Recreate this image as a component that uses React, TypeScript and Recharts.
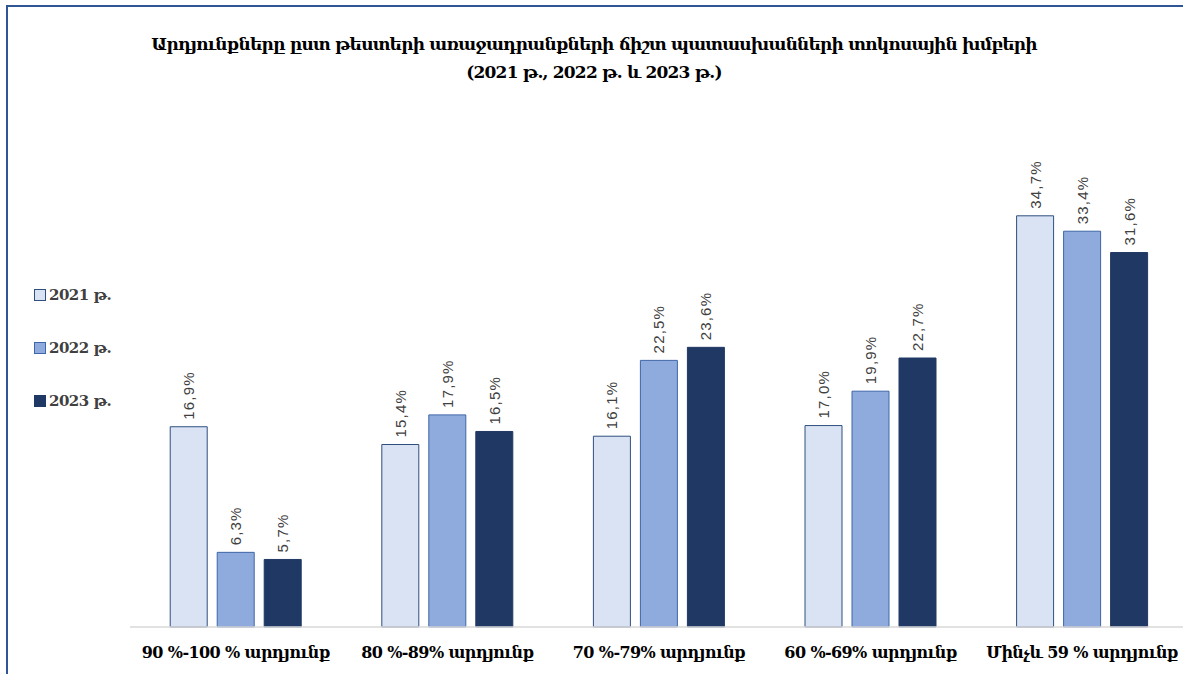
import { Bar, BarChart, LabelList, XAxis, YAxis } from 'recharts';

const CATEGORIES = [
  '90 %-100 % արդյունք',
  '80 %-89% արդյունք',
  '70 %-79% արդյունք',
  '60 %-69% արդյունք',
  'Մինչև 59 % արդյունք',
];
const Y2021 = [16.9, 15.4, 16.1, 17.0, 34.7];
const Y2022 = [6.3, 17.9, 22.5, 19.9, 33.4];
const Y2023 = [5.7, 16.5, 23.6, 22.7, 31.6];

const SERIES = [
  { key: 'y2021', name: '2021 թ.', fill: '#dae3f3', stroke: '#2f4f7f' },
  { key: 'y2022', name: '2022 թ.', fill: '#8faadc', stroke: '#3f66a8' },
  { key: 'y2023', name: '2023 թ.', fill: '#203864', stroke: '#203864' },
];

const data = CATEGORIES.map((label, i) => ({
  label,
  y2021: Y2021[i],
  y2022: Y2022[i],
  y2023: Y2023[i],
}));

const SERIF = '"DejaVu Serif", serif';
const FRAME = '#2f5597';
const fmt = (v: number) => `${v.toFixed(1).replace('.', ',')}%`;

function VLabel(props: any) {
  const { x, y, width, value } = props;
  const cx = x + width / 2;
  const cy = y - 7;
  return (
    <text
      x={cx}
      y={cy}
      transform={`rotate(-90, ${cx}, ${cy})`}
      textAnchor="start"
      dominantBaseline="central"
      fontSize={15}
      letterSpacing={1.2}
      fontFamily='"Liberation Sans", sans-serif'
      fill="#404040"
    >
      {fmt(value)}
    </text>
  );
}

function LegendBox() {
  return (
    <div style={{ position: 'absolute', left: 34, top: 268 }}>
      {SERIES.map((s) => (
        <div
          key={s.key}
          style={{ display: 'flex', alignItems: 'center', height: 53, fontFamily: SERIF, fontWeight: 700, fontSize: 15, color: '#404040', letterSpacing: -0.5 }}
        >
          <span style={{ width: 10, height: 10, background: s.fill, border: `1px solid ${s.stroke}`, marginRight: 3 }} />
          {s.name}
        </div>
      ))}
    </div>
  );
}

export default function App() {
  return (
    <div style={{ position: 'fixed', left: 0, top: 0, width: 1183, height: 674, overflow: 'hidden', background: '#fff' }}>
      <div style={{ position: 'absolute', top: 0, left: 0 }}>
        <BarChart
          width={1200}
          height={674}
          data={data}
          margin={{ top: 153, right: 12, bottom: 0, left: 130 }}
          barGap={10}
          barCategoryGap="19%"
        >
          <XAxis
            dataKey="label"
            height={47}
            tickLine={false}
            axisLine={{ stroke: '#d9d9d9', strokeWidth: 1.5 }}
            tick={{ fontFamily: SERIF, fontWeight: 700, fontSize: 16, fill: '#000', letterSpacing: -0.6 }}
            tickMargin={14}
            interval={0}
          />
          <YAxis hide domain={[0, 40]} />
          {SERIES.map((s) => (
            <Bar
              key={s.key}
              dataKey={s.key}
              name={s.name}
              fill={s.fill}
              stroke={s.stroke}
              strokeWidth={1}
              isAnimationActive={false}
            >
              <LabelList dataKey={s.key} content={<VLabel />} />
            </Bar>
          ))}
        </BarChart>
      </div>
      <div
        style={{
          position: 'absolute',
          left: 0,
          width: 1188,
          top: 30,
          textAlign: 'center',
          fontFamily: SERIF,
          fontWeight: 700,
          fontSize: 17,
          lineHeight: '28px',
          letterSpacing: -0.8,
          color: '#000',
        }}
      >
        Արդյունքները ըստ թեստերի առաջադրանքների ճիշտ պատասխանների տոկոսային խմբերի
        <br />
        (2021 թ., 2022 թ. և 2023 թ.)
      </div>
      <LegendBox />
      <div style={{ position: 'absolute', left: 6, top: 5, width: 2, height: 680, background: FRAME, zIndex: 5 }} />
      <div style={{ position: 'absolute', left: 6, top: 5, width: 1190, height: 2, background: FRAME, zIndex: 5 }} />
    </div>
  );
}
